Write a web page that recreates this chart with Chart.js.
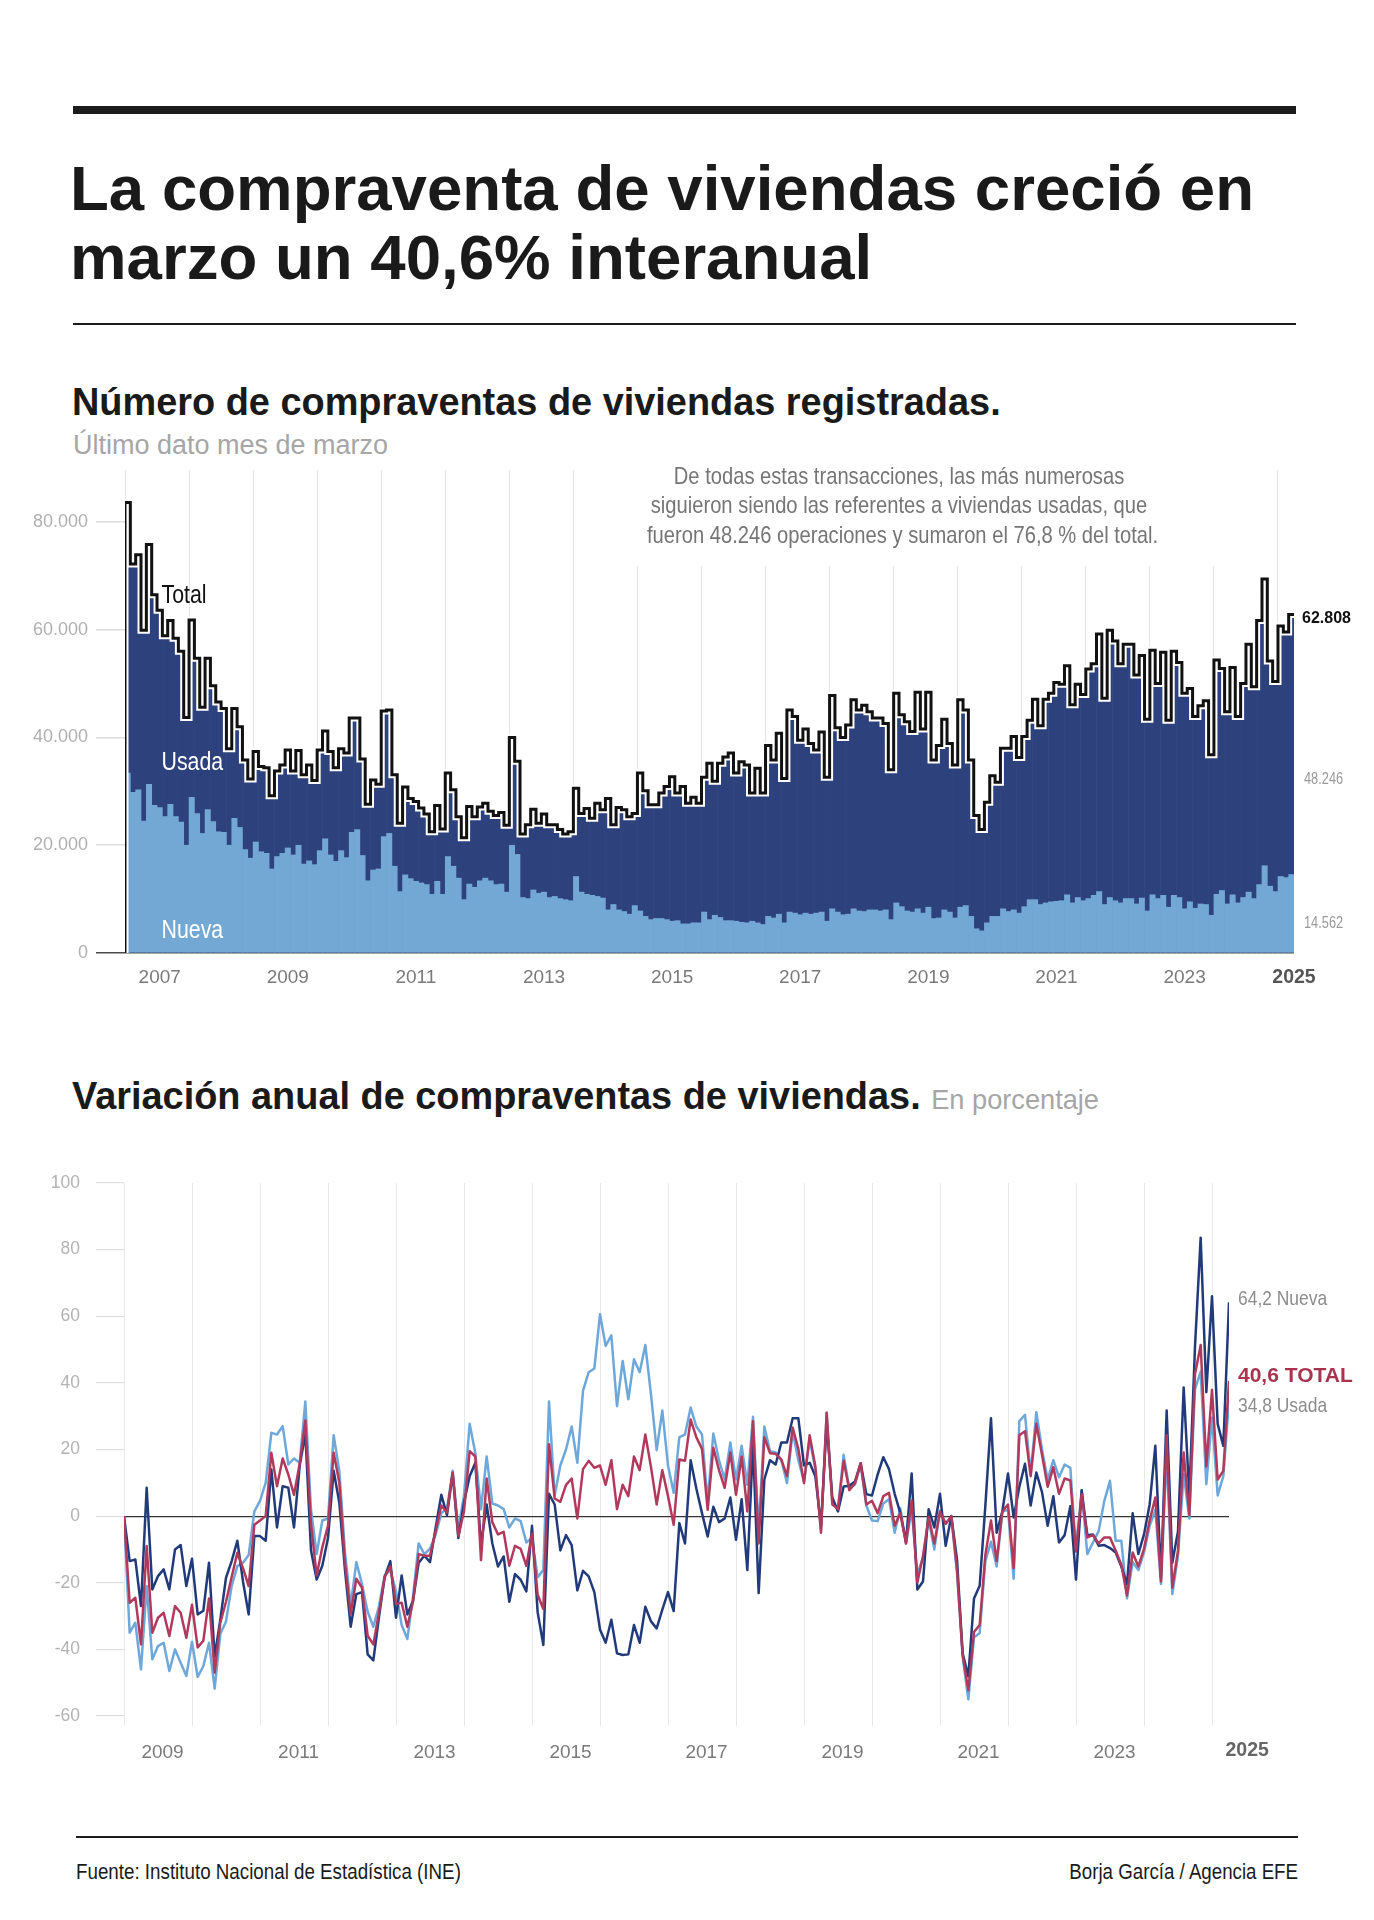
<!DOCTYPE html>
<html lang="es">
<head>
<meta charset="UTF-8">
<title>La compraventa de viviendas creció en marzo un 40,6% interanual</title>
<script src="https://cdn.jsdelivr.net/npm/chart.js"></script>
<style>
  html, body { margin: 0; padding: 0; background: #fff; }
  body { width: 1374px; height: 1920px; position: relative; overflow: hidden;
         font-family: "Liberation Sans", Arial, sans-serif; color: #1a1a1a; }
  .abs { position: absolute; white-space: nowrap; }
  #ruleTop { left: 73px; top: 106px; width: 1223px; height: 8px; background: #1c1c1c; }
  #title { left: 70px; top: 153px; font-size: 63.6px; line-height: 69px; font-weight: bold; }
  #ruleTitle { left: 73px; top: 323px; width: 1223px; height: 2px; background: #1c1c1c; }
  #sub1 { left: 72px; top: 382px; font-size: 37.9px; line-height: 40px; font-weight: bold; }
  #sub1note { left: 73px; top: 430px; font-size: 27px; line-height: 30px; color: #a6a6a6; }
  #noteMask { left: 625px; top: 462px; width: 597px; height: 104px; background: #fff; z-index: 2; }
  #note { left: 599px; top: 461px; width: 600px; text-align: center; font-size: 24px; line-height: 29.4px;
          color: #757575; z-index: 3; transform: scaleX(0.84); transform-origin: 50% 0; }
  #chart1 { left: 0; top: 440px; z-index: 1; }
  #sub2 { left: 72px; top: 1076px; font-size: 37.9px; line-height: 40px; font-weight: bold; }
  #sub2 span { font-weight: normal; font-size: 27.2px; color: #a6a6a6; }
  #chart2 { left: 0; top: 1150px; }
  #ruleFoot { left: 76px; top: 1836px; width: 1222px; height: 2px; background: #1c1c1c; }
  #source { left: 76px; top: 1859px; font-size: 22px; line-height: 26px;
            transform: scaleX(0.853); transform-origin: 0 0; }
  #credit { right: 76px; top: 1859px; font-size: 22px; line-height: 26px;
            transform: scaleX(0.85); transform-origin: 100% 0; }
</style>
</head>
<body>
  <div id="ruleTop" class="abs"></div>
  <div id="title" class="abs">La compraventa de viviendas creció en<br>marzo un 40,6% interanual</div>
  <div id="ruleTitle" class="abs"></div>
  <div id="sub1" class="abs">Número de compraventas de viviendas registradas.</div>
  <div id="sub1note" class="abs">Último dato mes de marzo</div>
  <div id="noteMask" class="abs"></div>
  <div id="note" class="abs">De todas estas transacciones, las más numerosas<br>siguieron siendo las referentes a viviendas usadas, que<br>fueron 48.246 operaciones y sumaron el 76,8 % del total.</div>
  <canvas id="chart1" class="abs" width="1374" height="560"></canvas>
  <div id="sub2" class="abs">Variación anual de compraventas de viviendas. <span>En porcentaje</span></div>
  <canvas id="chart2" class="abs" width="1374" height="640"></canvas>
  <div id="ruleFoot" class="abs"></div>
  <div id="source" class="abs">Fuente: Instituto Nacional de Estadística (INE)</div>
  <div id="credit" class="abs">Borja García / Agencia EFE</div>

<script>
const SANS = '"Liberation Sans", Arial, sans-serif';

// Compraventas registradas (miles), enero 2007 - marzo 2025
const totalMiles = [
  83.6, 72.2, 73.9, 59.9, 75.8, 66.5, 63.6, 58.9, 61.7, 58.4, 56.0, 43.7,
  61.8, 54.7, 45.6, 54.7, 49.6, 46.6, 45.4, 37.9, 45.4, 42.0, 35.8, 32.3,
  37.4, 34.6, 34.4, 29.2, 33.8, 34.9, 37.7, 33.8, 37.6, 33.1, 34.9, 32.0,
  37.7, 41.2, 37.4, 34.4, 37.9, 37.1, 43.6, 43.6, 36.0, 27.6, 32.1, 31.3,
  44.9, 45.1, 33.1, 24.1, 30.8, 28.7, 28.1, 26.9, 25.8, 22.5, 27.4, 23.0,
  33.4, 30.3, 25.3, 21.4, 27.2, 25.3, 27.1, 27.8, 26.3, 25.5, 26.1, 23.7,
  40.0, 35.6, 22.1, 23.8, 26.7, 24.1, 25.8, 23.8, 23.8, 22.9, 22.1, 22.5,
  30.6, 25.9, 26.8, 25.0, 27.8, 26.6, 28.7, 23.8, 27.0, 26.6, 25.3, 25.9,
  33.4, 30.1, 27.5, 27.5, 29.7, 30.9, 32.7, 29.7, 30.9, 27.8, 28.9, 27.8,
  32.6, 35.2, 31.9, 35.2, 36.4, 37.1, 33.4, 35.5, 34.9, 29.7, 34.3, 29.7,
  38.5, 35.8, 40.8, 32.4, 45.1, 43.9, 39.5, 41.6, 38.9, 37.7, 41.0, 32.6,
  47.8, 41.8, 40.0, 42.3, 47.0, 45.1, 46.0, 44.8, 43.6, 43.6, 42.6, 34.0,
  48.2, 44.2, 42.9, 41.1, 48.4, 41.6, 48.4, 35.8, 38.5, 43.4, 38.9, 34.9,
  47.0, 45.1, 35.8, 25.5, 22.9, 28.0, 32.9, 31.7, 38.0, 38.0, 40.2, 36.3,
  40.2, 43.2, 47.1, 42.2, 47.1, 48.2, 50.2, 49.9, 53.3, 46.1, 49.9, 48.0,
  52.7, 53.7, 59.2, 47.3, 59.9, 57.9, 53.7, 57.3, 57.3, 51.6, 55.2, 43.4,
  56.2, 50.0, 55.8, 43.2, 56.0, 53.9, 48.2, 49.1, 43.9, 45.9, 46.8, 36.8,
  54.4, 52.8, 44.8, 53.0, 43.9, 50.0, 57.3, 49.4, 61.7, 69.4, 54.2, 50.4,
  60.7, 59.6, 62.808
];
const nuevaMiles = [
  33.4, 29.8, 30.3, 24.5, 31.3, 27.4, 27.0, 25.3, 27.6, 25.3, 24.3, 20.0,
  28.9, 25.9, 22.2, 26.6, 24.4, 22.5, 22.4, 20.0, 25.0, 23.3, 19.2, 17.6,
  20.6, 18.8, 18.5, 15.6, 17.9, 18.5, 19.5, 18.2, 20.0, 16.5, 17.1, 16.4,
  19.0, 21.2, 18.2, 17.0, 19.0, 17.7, 22.4, 22.9, 18.1, 13.4, 15.4, 15.6,
  21.6, 22.2, 16.1, 11.4, 14.5, 13.8, 13.3, 13.0, 12.7, 10.9, 13.3, 10.9,
  17.9, 16.1, 13.9, 9.9, 12.8, 12.2, 13.4, 13.9, 13.4, 12.7, 12.8, 11.3,
  20.0, 18.3, 10.3, 10.1, 11.7, 11.1, 11.3, 10.3, 10.5, 10.1, 9.9, 9.7,
  14.2, 11.3, 10.9, 10.7, 10.5, 10.2, 8.0, 9.0, 8.0, 7.7, 7.2, 8.8,
  7.8, 6.8, 6.2, 6.4, 6.4, 6.2, 5.9, 6.0, 5.4, 5.4, 5.6, 5.6,
  7.6, 6.2, 7.0, 6.6, 6.0, 6.0, 5.9, 5.7, 5.6, 5.9, 5.6, 5.3,
  6.8, 6.5, 7.2, 5.6, 7.6, 7.4, 7.1, 7.4, 7.2, 7.4, 7.6, 5.9,
  8.2, 7.6, 7.1, 7.2, 8.2, 7.8, 7.7, 8.0, 8.0, 7.8, 8.0, 6.2,
  9.3, 8.6, 7.8, 7.6, 8.2, 7.4, 8.5, 6.4, 6.5, 8.0, 7.6, 6.5,
  8.5, 8.8, 6.8, 4.5, 4.1, 5.6, 6.8, 6.8, 8.2, 7.7, 8.0, 7.4,
  8.6, 9.9, 9.9, 9.0, 9.3, 9.5, 9.6, 9.7, 10.8, 9.3, 10.3, 9.7,
  10.1, 10.7, 11.4, 9.0, 10.3, 9.7, 9.3, 10.1, 10.1, 9.1, 10.2, 7.8,
  10.8, 10.1, 10.7, 8.5, 10.7, 10.3, 8.2, 9.5, 8.3, 9.1, 9.0, 7.0,
  10.9, 11.6, 9.1, 10.8, 9.3, 10.3, 11.3, 10.1, 12.7, 16.2, 12.4, 11.4,
  14.2, 14.0, 14.562
];
const topYearLabels = ['2007', '2009', '2011', '2013', '2015', '2017', '2019', '2021', '2023', '2025'];
const topYTicks = [0, 20, 40, 60, 80];

// Variación anual (%)
const varNueva = [
  0, -13.5, -13, -27, 8.5, -22, -18, -16, -22, -10, -8.7, -21,
  -12.8, -29.5, -28.4, -14, -42.2, -31, -18.5, -13.5, -7.4, -19.6, -29.5, -6,
  -6, -7.4, 14, -3.4, 9, 8.5, -3.4, 15, 24.8, -10.3, -19, -14.9,
  -6.6, 13.6, 4, -16.2, -33.2, -23.4, -22.8, -41.5, -43.3, -30.2, -18.3, -13.5,
  -30.5, -17.8, -29.5, -25.5, -14, -11.9, -13.8, -3.4, 6.4, 0.3, 12.8, -6.6,
  4, 12, 16, -8.7, 3.5, -8.2, -15.1, -12.1, -25.7, -17.4, -19.1, -22.6,
  -2.9, -28.9, -38.7, 6.7, 3.5, -10.3, -5.7, -8.7, -22.3, -16.4, -18.1, -22.8,
  -34, -38, -31.1, -41.2, -41.7, -41.5, -32.7, -38, -27.2, -31.6, -33.7, -28.1,
  -22.8, -28.5, -2.1, -8.2, 16.8, 8.3, 0.9, -6.1, 2.8, -1.8, -0.7, 5.6,
  -7.1, 5.1, -16.2, 21.6, -23.1, 11, 16.8, 15.5, 22.1, 22.1, 29.4, 29.4,
  15.2, 16, 12, -3, 28, 5.6, 1.4, 8.9, 9.1, 10.4, 15.9, 6.6,
  6.2, 12.5, 17.7, 14.1, 6.7, 0.9, -7.7, 12.8, -22, -19.6, 2.1, -3.4,
  6.7, -8.9, 0, -13, -41.2, -48.1, -24.7, -20.9, 3, 29.4, -5, 1.4,
  12.8, -0.4, 8.8, 15.7, 3.2, 13.1, 7.2, -2.9, 6, -7.9, -5.7, 3,
  -19.1, 7.8, -5.7, -5.5, -8.9, -8.7, -9.6, -10.9, -15.1, -20.4, 0.9, -11.4,
  -5.5, 3.5, 21.1, -18.3, 31.7, -14, -4.5, 38.6, 6.2, 50.9, 83.6, 37.2,
  66, 27.7, 21.1, 64.2
];
const varUsada = [
  0, -35, -32, -46, -21, -43, -39, -38, -46.5, -40, -44, -48,
  -37.7, -48.3, -45, -38, -51.8, -35.3, -31.6, -21, -15, -14, -11.7, 1.4,
  4.6, 10, 25, 24.5, 27, 15.5, 17.3, 16, 34.4, 2, -11.4, -1.3,
  -0.7, 24.3, 13.6, -10.9, -26.8, -13.8, -20.4, -28.7, -33.2, -27, -17.8, -16.2,
  -22.6, -32.7, -36.9, -24.1, -8.2, -11.4, -9.8, -5.5, 0.9, 2.4, 13.6, -3.9,
  6.2, 27.7, 18.9, 2, 17.9, 3.8, 3.2, 2.1, -3.4, -0.7, -1.5, -7.9,
  -6.6, -18.3, -16.2, 34.4, 6.2, 15.2, 20, 26.9, 16, 37.6, 43.2, 44.3,
  60.6, 51.1, 54.3, 33, 46.6, 35.1, 47.1, 43.2, 51.4, 36.5, 19.8, 31.7,
  15.2, 7, 23.7, 24.5, 32.6, 26.9, 24.5, 4.3, 24.8, 16.8, 11, 22.1,
  11, 21.1, 9.4, 29.8, -4.5, 26.9, 19.5, 19.1, 16.8, 9.9, 25.3, 16.8,
  10.4, 23, 14, -4, 31, 3.8, 2.4, 18.4, 8.3, 9.5, 15.5, 3.2,
  -1.3, -1.5, 3.8, 5.1, -5, 2.4, -8.2, 2, -17.5, -12.5, -1, -10,
  1.7, -2.3, -0.2, -17, -42.2, -55, -36.4, -35.1, -13.5, -7.7, -15.1, 1.4,
  1.9, -18.8, 28.5, 30.4, 12.6, 31.2, 20, 11, 16.8, 11.7, 15.5, 14.5,
  -10.6, 7.8, -11.4, -7.9, -4.5, 4.6, 10.6, -7.4, -7.4, -24.7, -13.8, -16.2,
  -10.9, -2.9, 1.9, -20.4, 18.9, -23.4, -11.9, 12.6, -0.7, 38.1, 43.4, 9.6,
  29.6, 6.2, 12, 34.8
];
const varTotal = [
  0, -26, -24.5, -38.5, -9, -35, -30.5, -29, -36, -27, -29, -36.5,
  -26.6, -39.4, -37.4, -24.7, -47, -32, -25.7, -18.3, -11, -15.6, -21, -2.6,
  -1.3, 0, 19, 9, 17.3, 12.5, 6.4, 15.7, 28.7, -2.3, -17.8, -9.3,
  -2.9, 19, 10, -14, -29.5, -18.8, -21.5, -35.9, -38.5, -28.9, -18.3, -15.1,
  -26.3, -26, -33.2, -25.7, -11.4, -11.9, -11.9, -4.5, 3.2, 1.1, 13.1, -6,
  1.4, 19.5, 17.9, -13.2, 11.3, -1.8, -5.5, -4.7, -14.9, -8.9, -9.8, -14.9,
  -5.3, -23.6, -27.9, 21.6, 5.3, 4.3, 9.4, 11.3, -0.7, 14.1, 16.6, 14.5,
  15.2, 9.4, 16.8, 2.1, 9.4, 6, 17.9, 13.8, 24.5, 14.7, 3.5, 13.8,
  6, -2.6, 17, 16.6, 29, 23.7, 20.2, 1.9, 20.5, 13.8, 8.5, 19.1,
  6.4, 17.9, 1.4, 28.5, -8.2, 23.7, 18.9, 18.7, 17, 12, 26.6, 20.2,
  9.9, 24.3, 15, -5, 31, 3.5, 2.1, 16.6, 7.8, 9.9, 15.9, 3.5,
  4.6, 0.9, 6, 7, -2.9, 0.9, -8.2, 4.6, -19.9, -12, -0.2, -8.2,
  1.4, -2.3, 0, -16, -41.7, -52.3, -34.8, -32.7, -11.7, -1.3, -13.5, 1.4,
  3.5, -15.6, 24.3, 25.5, 12, 27.7, 18.4, 8.8, 14.7, 6.7, 11.3, 10.7,
  -10.6, 6.6, -6.4, -5.7, -8.2, -6.4, -6.4, -10.3, -14.6, -23.8, -10.9, -15.1,
  -9.8, -1.3, 5.6, -19.6, 24.3, -21.5, -10.3, 19.1, 0.3, 42.6, 51.4, 14.9,
  37.9, 11, 13.6, 40.6
];
const bottomYearLabels = ['2009', '2011', '2013', '2015', '2017', '2019', '2021', '2023', '2025'];
const bottomYTicks = [-60, -40, -20, 0, 20, 40, 60, 80, 100];

function miles(v) {
  const n = String(Math.round(v * 1000));
  return n.length > 3 ? n.slice(0, -3) + '.' + n.slice(-3) : n;
}

// texto estrecho en el canvas (no hay fuente condensada instalada)
function narrowText(ctx, text, x, y, sx) {
  ctx.save();
  ctx.translate(x, y);
  ctx.scale(sx, 1);
  ctx.fillText(text, 0, 0);
  ctx.restore();
}

// ---------- gráfico 1: barras mensuales ----------
const nMonths = totalMiles.length;
const topGrid = new Set();
for (let m = 0; m < nMonths; m += 12) topGrid.add(m);
const topLabelAt = {};
topYearLabels.forEach((y, k) => {
  topLabelAt[k < topYearLabels.length - 1 ? 6.5 + 24 * k : nMonths] = y;
});
const totalStep = [{ x: 0, y: 0 }].concat(totalMiles.map((v, i) => ({ x: i + 1, y: v })));
const lastTotal = totalMiles[nMonths - 1];
const lastNueva = nuevaMiles[nMonths - 1];

const topLabels = {
  id: 'topLabels',
  afterDraw(chart) {
    const { ctx, chartArea, scales: { x, y } } = chart;
    ctx.save();
    ctx.textBaseline = 'middle';
    ctx.textAlign = 'left';
    const xi = x.getPixelForValue(6.85);
    ctx.font = '26px ' + SANS;
    ctx.fillStyle = '#111';
    narrowText(ctx, 'Total', xi, y.getPixelForValue(66.3), 0.82);
    ctx.fillStyle = '#fff';
    narrowText(ctx, 'Usada', xi, y.getPixelForValue(35.3), 0.82);
    narrowText(ctx, 'Nueva', xi, y.getPixelForValue(4.2), 0.82);
    const xr = chartArea.right + 8;
    ctx.font = 'bold 16px ' + SANS;
    ctx.fillStyle = '#111';
    ctx.fillText(miles(lastTotal), xr, y.getPixelForValue(lastTotal) + 4);
    ctx.font = '16px ' + SANS;
    ctx.fillStyle = '#9a9a9a';
    narrowText(ctx, miles(lastTotal - lastNueva), xr + 2, y.getPixelForValue(32.1), 0.8);
    narrowText(ctx, miles(lastNueva), xr + 2, y.getPixelForValue(5.4), 0.8);
    ctx.restore();
  }
};

new Chart(document.getElementById('chart1'), {
  type: 'bar',
  data: {
    datasets: [
      { type: 'line', label: 'Total', data: totalStep, stepped: 'after', borderColor: '#111',
        borderWidth: 3, pointRadius: 0, order: 0 },
      { type: 'line', label: 'halo', data: totalStep, stepped: 'after', borderColor: '#fff',
        borderWidth: 7, pointRadius: 0, order: 1 },
      { label: 'Nueva', data: nuevaMiles.map((v, i) => ({ x: i + 0.5, y: v })), backgroundColor: '#74a8d4',
        grouped: false, barPercentage: 1, categoryPercentage: 1, borderWidth: 0, order: 2 },
      { label: 'Usada', data: totalMiles.map((v, i) => ({ x: i + 0.5, y: v })), backgroundColor: '#2d427d',
        grouped: false, barPercentage: 1, categoryPercentage: 1, borderWidth: 0, order: 3 }
    ]
  },
  options: {
    responsive: false,
    animation: false,
    layout: { padding: { top: 30, right: 80, left: 0, bottom: 0 } },
    plugins: { legend: { display: false }, tooltip: { enabled: false } },
    scales: {
      x: {
        type: 'linear', min: 0, max: nMonths, offset: false, z: 1,
        afterFit: (s) => { s.height = 47; },
        afterBuildTicks: (s) => {
          s.ticks = [...topGrid, ...Object.keys(topLabelAt).map(Number)].map(v => ({ value: v }));
        },
        border: { display: false },
        grid: {
          offset: false, drawTicks: false,
          color: (c) => (c.tick && topGrid.has(c.tick.value)) ? 'rgba(170,170,170,0.3)' : 'transparent'
        },
        ticks: {
          autoSkip: false, maxRotation: 0, padding: 13,
          callback: (v) => topLabelAt[v] || '',
          color: (c) => (c.tick && c.tick.value === nMonths) ? '#555' : '#7a7a7a',
          font: (c) => (c.tick && c.tick.value === nMonths)
            ? { family: SANS, size: 19.5, weight: 'bold' } : { family: SANS, size: 19 }
        }
      },
      y: {
        min: 0, max: 89.65, z: 1,
        afterFit: (s) => { s.width = 125; },
        afterBuildTicks: (s) => { s.ticks = topYTicks.map(v => ({ value: v })); },
        border: { display: false },
        grid: {
          tickLength: 29, lineWidth: 1.5,
          color: (c) => (c.tick && c.tick.value === 0) ? '#4a4a4a' : 'transparent',
          tickColor: (c) => (c.tick && c.tick.value === 0) ? '#4a4a4a' : '#dddddd'
        },
        ticks: {
          padding: 8, color: '#b0b0b0', font: { family: SANS, size: 18 },
          callback: (v) => v === 0 ? '0' : v + '.000'
        }
      }
    }
  },
  plugins: [topLabels]
});

// ---------- gráfico 2: variación anual ----------
const nPts = varTotal.length;
const botGrid = new Set();
for (let m = 0; m < nPts; m += 12) botGrid.add(m);
const botLabelAt = {};
bottomYearLabels.slice(0, -1).forEach((y, k) => { botLabelAt[6.8 + 24 * k] = y; });
const pts = (arr) => arr.map((v, j) => ({ x: j, y: v }));
const lastOf = (arr) => arr[arr.length - 1];
const fmtPct = (v) => v.toFixed(1).replace('.', ',');

const endLabels = {
  id: 'endLabels',
  afterDraw(chart) {
    const { ctx, chartArea, scales: { x, y } } = chart;
    ctx.save();
    ctx.textBaseline = 'middle';
    ctx.textAlign = 'left';
    const xr = chartArea.right + 9;
    ctx.font = '21px ' + SANS;
    ctx.fillStyle = '#8c8c8c';
    narrowText(ctx, fmtPct(lastOf(varNueva)) + ' Nueva', xr, y.getPixelForValue(lastOf(varNueva)) - 3, 0.83);
    narrowText(ctx, fmtPct(lastOf(varUsada)) + ' Usada', xr, y.getPixelForValue(lastOf(varUsada)) + 6, 0.83);
    ctx.font = 'bold 21px ' + SANS;
    ctx.fillStyle = '#a8354f';
    ctx.fillText(fmtPct(lastOf(varTotal)) + ' TOTAL', xr, y.getPixelForValue(lastOf(varTotal)) - 5);
    ctx.textAlign = 'center';
    ctx.font = 'bold 19.5px ' + SANS;
    ctx.fillStyle = '#666';
    ctx.fillText(bottomYearLabels[bottomYearLabels.length - 1], x.getPixelForValue(198.2), chartArea.bottom + 25);
    ctx.restore();
  }
};

new Chart(document.getElementById('chart2'), {
  type: 'line',
  data: {
    datasets: [
      { label: 'Total', data: pts(varTotal), borderColor: '#b13a5c', borderWidth: 2.5, pointRadius: 0,
        borderJoinStyle: 'round', order: 0 },
      { label: 'Nueva', data: pts(varNueva), borderColor: '#213a7a', borderWidth: 2.5, pointRadius: 0,
        borderJoinStyle: 'round', order: 1 },
      { label: 'Usada', data: pts(varUsada), borderColor: '#6ea8db', borderWidth: 2.5, pointRadius: 0,
        borderJoinStyle: 'round', order: 2 }
    ]
  },
  options: {
    responsive: false,
    animation: false,
    layout: { padding: { top: 33, right: 145, left: 0, bottom: 0 } },
    plugins: { legend: { display: false }, tooltip: { enabled: false } },
    scales: {
      x: {
        type: 'linear', min: 0, max: nPts - 1,
        afterFit: (s) => { s.height = 64; },
        afterBuildTicks: (s) => {
          s.ticks = [...botGrid, ...Object.keys(botLabelAt).map(Number)].map(v => ({ value: v }));
        },
        border: { display: false },
        grid: {
          drawTicks: false,
          color: (c) => (c.tick && botGrid.has(c.tick.value)) ? '#e8e8e8' : 'transparent'
        },
        ticks: {
          autoSkip: false, maxRotation: 0, padding: 15, color: '#7a7a7a',
          font: { family: SANS, size: 19 },
          callback: (v) => botLabelAt[v] || ''
        }
      },
      y: {
        min: -63, max: 100,
        afterFit: (s) => { s.width = 124; },
        afterBuildTicks: (s) => { s.ticks = bottomYTicks.map(v => ({ value: v })); },
        border: { display: false },
        grid: {
          tickLength: 28, lineWidth: 1.2,
          color: (c) => (c.tick && c.tick.value === 0) ? '#333' : 'transparent',
          tickColor: '#dddddd'
        },
        ticks: { padding: 16, color: '#b3b3b3', font: { family: SANS, size: 17.5 } }
      }
    }
  },
  plugins: [endLabels]
});
</script>
</body>
</html>
